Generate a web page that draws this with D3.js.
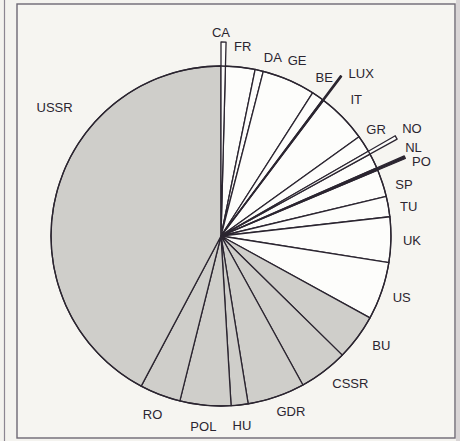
<!DOCTYPE html>
<html>
<head>
<meta charset="utf-8">
<script src="https://cdn.jsdelivr.net/npm/d3@7"></script>
<style>
  body { margin: 0; background: #f4f3ef; }
  svg { display: block; }
</style>
</head>
<body>
<svg id="chart" width="460" height="441"></svg>
<script>
// slices clockwise from 12 o'clock
var countries = ["CA","FR","DA","GE","BE","LUX","IT","GR","NO","NL","PO","SP","TU","UK","US",
                 "BU","CSSR","GDR","HU","POL","RO","USSR"];
var values = [1.5,10.1,2.8,18.2,4.1,0.4,17.2,5.8,1.1,5.2,0.8,9.3,7.0,15.5,19.8,
              15.7,16.7,19.6,5.8,17.4,14.0,152];
var warsawPact = ["BU","CSSR","GDR","HU","POL","RO","USSR"];

// small slices drawn sticking out of the circle
var pulled = {CA: 194, LUX: 200, NO: 201, PO: 200};

// label placement tweaks: [angle in degrees, radius]
var labelAt = {
  CA: [0, 204], DA: [16.2, 186], BE: [33.1, 189], LUX: [40.7, 215], IT: [44.8, 192],
  GR: [55.6, 188], NO: [60.7, 219], NL: [65.2, 212], PO: [69.5, 214], SP: [74.4, 190],
  TU: [81.2, 190], BU: [124.3, 194], CSSR: [138.7, 196], GDR: [158.3, 189],
  USSR: [307.6, 210]
};

var svg = d3.select("#chart"),
  width = +svg.attr("width"),
  height = +svg.attr("height");

var cx = 221, cy = 236, radius = 170;
var ink = "#2b2530";

// page frame
svg.append("line")
  .attr("x1", 4.5).attr("x2", 4.5).attr("y1", 0).attr("y2", height)
  .attr("stroke", "#8c8692").attr("stroke-width", 1.2);
svg.append("rect")
  .attr("x", 17).attr("y", 4).attr("width", 438).attr("height", 434)
  .attr("fill", "#f6f5f1").attr("stroke", "#6e6874").attr("stroke-width", 1.4);
svg.append("rect")
  .attr("x", 456).attr("y", 0).attr("width", 4).attr("height", height)
  .attr("fill", "#d9d5d6");

var data = countries.map(function (c, i) { return {name: c, value: values[i]}; });

var pie = d3.pie().sort(null).value(function (d) { return d.value; })
  .startAngle(0).endAngle(2 * Math.PI);
var arcs = pie(data);

var arc = d3.arc().innerRadius(0).outerRadius(function (d) {
  return pulled[d.data.name] || radius;
});

var g = svg.append("g").attr("transform", "translate(" + cx + "," + cy + ")");

// draw big slices first, pulled-out ones on top
var order = arcs.filter(function (d) { return !pulled[d.data.name]; })
  .concat(arcs.filter(function (d) { return pulled[d.data.name]; }));

g.selectAll("path.slice")
  .data(order)
  .enter()
  .append("path")
  .attr("class", "slice")
  .attr("d", arc)
  .attr("fill", function (d) {
    if (d.endAngle - d.startAngle < 0.018) return ink; // too thin, shows as a line
    return warsawPact.indexOf(d.data.name) >= 0 ? "#cfceca" : "#fdfdfb";
  })
  .attr("stroke", ink)
  .attr("stroke-width", 1.3)
  .attr("stroke-linejoin", "round");

// outer circle
g.append("circle").attr("r", radius)
  .attr("fill", "none").attr("stroke", ink).attr("stroke-width", 1.3);

// labels
g.selectAll("text")
  .data(arcs)
  .enter()
  .append("text")
  .attr("x", function (d) {
    var p = labelAt[d.data.name];
    var a = p ? p[0] * Math.PI / 180 : (d.startAngle + d.endAngle) / 2;
    var r = p ? p[1] : 191;
    return r * Math.sin(a);
  })
  .attr("y", function (d) {
    var p = labelAt[d.data.name];
    var a = p ? p[0] * Math.PI / 180 : (d.startAngle + d.endAngle) / 2;
    var r = p ? p[1] : 191;
    return -r * Math.cos(a);
  })
  .attr("text-anchor", "middle")
  .attr("dominant-baseline", "central")
  .attr("font-family", "'Liberation Sans', Arial, sans-serif")
  .attr("font-size", 13)
  .attr("fill", ink)
  .text(function (d) { return d.data.name; });
</script>
</body>
</html>
